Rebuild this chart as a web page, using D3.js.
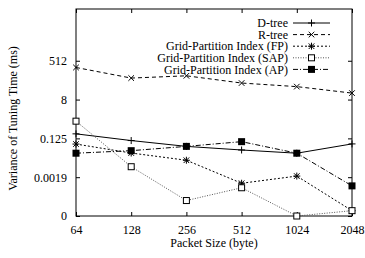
<!DOCTYPE html>
<html>
<head>
<meta charset="utf-8">
<script src="https://cdn.jsdelivr.net/npm/d3@7"></script>
<style>
  body { margin: 0; background: #fff; }
</style>
</head>
<body>
<div id="chart"></div>
<script>
// packet sizes (x) and tick labels
const packetSizes = [64, 128, 256, 512, 1024, 2048];
const yTickValues = [Math.pow(2, -15), Math.pow(2, -9), 0.125, 8, 512];
const yTickLabels = ["0", "0.0019", "0.125", "8", "512"];

// variance of tuning time (ms)
const dtree = [0.203, 0.099, 0.053, 0.036, 0.0255, 0.069];
const rtree = [249, 80, 102, 47, 32, 16];
const gridFP = [0.068, 0.026, 0.012, 0.00102, 0.0022, 0.000054];
const gridSAP = [0.79, 0.006, 0.00016, 0.00063, 0.0000305, 0.000054];
const gridAP = [0.0255, 0.0335, 0.053, 0.088, 0.0255, 0.00077];

const seriesNames = ["D-tree", "R-tree", "Grid-Partition Index (FP)", "Grid-Partition Index (SAP)", "Grid-Partition Index (AP)"];

const font = "Liberation Serif, DejaVu Serif, serif";
const width = 365, height = 258;
const margin = {top: 9, right: 13, bottom: 42, left: 76};
const innerW = width - margin.left - margin.right;
const innerH = height - margin.top - margin.bottom;

const svg = d3.select("#chart").append("svg")
    .attr("width", width)
    .attr("height", height)
    .attr("font-family", font);

const g = svg.append("g")
    .attr("transform", `translate(${margin.left},${margin.top})`);

const x = d3.scaleLog().base(2)
    .domain([64, 2048])
    .range([0, innerW]);

const y = d3.scaleLog().base(2)
    .domain([Math.pow(2, -15), Math.pow(2, 17)])
    .range([innerH, 0]);

// axes, gnuplot style: inward ticks, mirrored
const tickLen = 4;
g.append("g")
    .attr("transform", `translate(0,${innerH})`)
    .call(d3.axisBottom(x).tickValues(packetSizes).tickFormat(d3.format("d"))
        .tickSizeInner(-tickLen).tickSizeOuter(0).tickPadding(9))
    .call(ax => ax.select(".domain").remove());
g.append("g")
    .call(d3.axisTop(x).tickValues(packetSizes).tickFormat("")
        .tickSizeInner(-tickLen).tickSizeOuter(0))
    .call(ax => ax.select(".domain").remove());
g.append("g")
    .call(d3.axisLeft(y).tickValues(yTickValues).tickFormat((d, i) => yTickLabels[i])
        .tickSizeInner(-tickLen).tickSizeOuter(0).tickPadding(9))
    .call(ax => ax.select(".domain").remove());
g.append("g")
    .attr("transform", `translate(${innerW},0)`)
    .call(d3.axisRight(y).tickValues(yTickValues).tickFormat("")
        .tickSizeInner(-tickLen).tickSizeOuter(0))
    .call(ax => ax.select(".domain").remove());

g.selectAll(".tick").select(function () { return this.parentNode; })
    .attr("font-family", font)
    .attr("font-size", 12);
g.selectAll(".tick line").attr("stroke", "#000");

g.append("rect")
    .attr("width", innerW)
    .attr("height", innerH)
    .attr("fill", "none")
    .attr("stroke", "#000")
    .attr("stroke-width", 1);

// axis titles
svg.append("text")
    .attr("x", margin.left + innerW / 2)
    .attr("y", 247)
    .attr("text-anchor", "middle")
    .attr("font-size", 12)
    .text("Packet Size (byte)");

svg.append("text")
    .attr("transform", `translate(17,${margin.top + innerH / 2 + 6}) rotate(-90)`)
    .attr("text-anchor", "middle")
    .attr("font-size", 12)
    .text("Variance of Tuning Time (ms)");

// series
const series = [
    {name: seriesNames[0], values: dtree, dash: null, color: "#000", marker: "plus"},
    {name: seriesNames[1], values: rtree, dash: "4,3", color: "#000", marker: "cross"},
    {name: seriesNames[2], values: gridFP, dash: "2,2", color: "#000", marker: "star"},
    {name: seriesNames[3], values: gridSAP, dash: "1,1.5", color: "#555", marker: "square"},
    {name: seriesNames[4], values: gridAP, dash: "5,2,1,2", color: "#000", marker: "fsquare"}
];

const line = d3.line()
    .x(d => x(d.x))
    .y(d => y(d.y));

function drawMarker(sel, type, cx, cy) {
    const s = 3.5;
    const m = sel.append("g").attr("transform", `translate(${cx},${cy})`);
    if (type === "plus" || type === "star") {
        m.append("path").attr("d", `M${-s},0H${s}M0,${-s}V${s}`)
            .attr("stroke", "#000").attr("stroke-width", 1);
    }
    if (type === "cross" || type === "star") {
        const c = s * 0.8;
        m.append("path").attr("d", `M${-c},${-c}L${c},${c}M${-c},${c}L${c},${-c}`)
            .attr("stroke", "#000").attr("stroke-width", 1);
    }
    if (type === "square") {
        m.append("rect").attr("x", -3).attr("y", -3).attr("width", 6).attr("height", 6)
            .attr("fill", "#fff").attr("stroke", "#000").attr("stroke-width", 1);
    }
    if (type === "fsquare") {
        m.append("rect").attr("x", -3.5).attr("y", -3.5).attr("width", 7).attr("height", 7)
            .attr("fill", "#000");
    }
}

series.forEach(s => {
    const pts = s.values.map((v, i) => ({x: packetSizes[i], y: v}));
    g.append("path")
        .datum(pts)
        .attr("d", line)
        .attr("fill", "none")
        .attr("stroke", s.color)
        .attr("stroke-width", 1)
        .attr("stroke-dasharray", s.dash);
    pts.forEach(p => drawMarker(g, s.marker, x(p.x), y(p.y)));
});

// legend
const legend = svg.append("g");
series.forEach((s, i) => {
    const ly = 23 + i * 11.6;
    legend.append("text")
        .attr("x", 288)
        .attr("y", ly)
        .attr("dy", "0.35em")
        .attr("text-anchor", "end")
        .attr("font-size", 12)
        .text(s.name);
    legend.append("line")
        .attr("x1", 293).attr("x2", 330)
        .attr("y1", ly).attr("y2", ly)
        .attr("stroke", s.color)
        .attr("stroke-width", 1)
        .attr("stroke-dasharray", s.dash);
    drawMarker(legend, s.marker, 311.5, ly);
});
</script>
</body>
</html>
